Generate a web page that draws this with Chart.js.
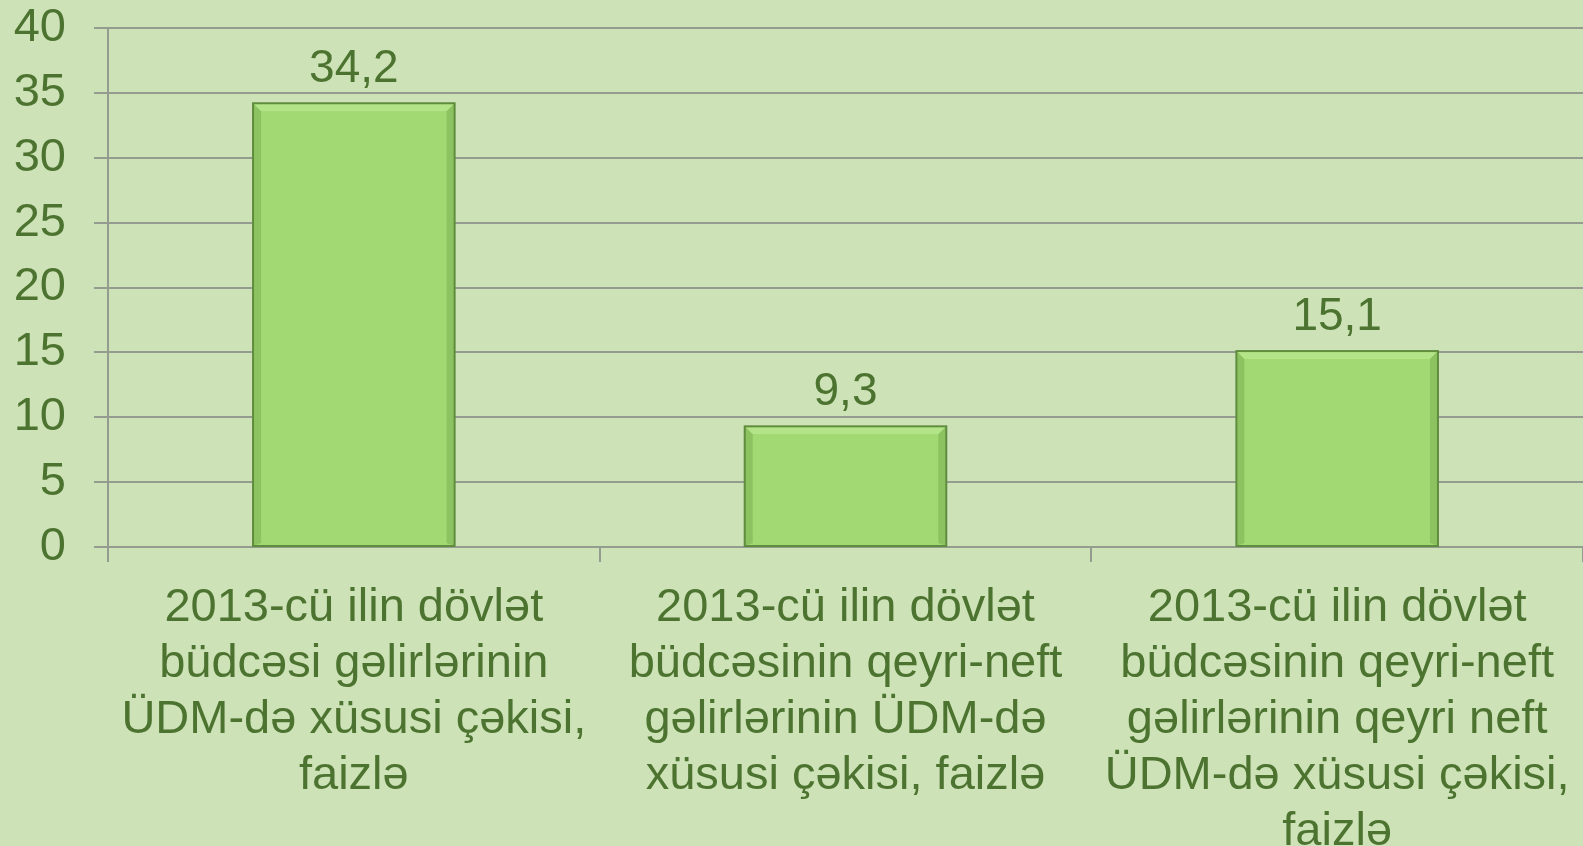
<!DOCTYPE html>
<html>
<head>
<meta charset="utf-8">
<script src="https://cdn.jsdelivr.net/npm/chart.js@4.4.1/dist/chart.umd.min.js"></script>
<style>
    html, body { margin: 0; padding: 0; background: #cde3b7; }
    #wrap { width: 1583px; height: 846px; }
</style>
</head>
<body>
<div id="wrap"><canvas id="grafica"></canvas></div>
<script>
// Datos de la grafica
var categorias = [
    ['2013-cü ilin dövlət', 'büdcəsi gəlirlərinin', 'ÜDM-də xüsusi çəkisi,', 'faizlə'],
    ['2013-cü ilin dövlət', 'büdcəsinin qeyri-neft', 'gəlirlərinin ÜDM-də', 'xüsusi çəkisi, faizlə'],
    ['2013-cü ilin dövlət', 'büdcəsinin qeyri-neft', 'gəlirlərinin qeyri neft', 'ÜDM-də xüsusi çəkisi,', 'faizlə']
];
var valores = [34.2, 9.3, 15.1];
var ticksY = [0, 5, 10, 15, 20, 25, 30, 35, 40];

var verdeTexto = '#4d7330';
var gris = '#949c8f';
var fuente = "'Liberation Sans', Arial, sans-serif";

// Etiquetas de valor sobre cada barra
var etiquetasPlugin = {
    id: 'etiquetas',
    afterDatasetsDraw: function (chart) {
        var ctx = chart.ctx;
        var meta = chart.getDatasetMeta(0);
        ctx.save();
        ctx.fillStyle = verdeTexto;
        ctx.font = '46px ' + fuente;
        ctx.textAlign = 'center';
        ctx.textBaseline = 'alphabetic';
        meta.data.forEach(function (bar, i) {
            var texto = String(valores[i]).replace('.', ',');
            ctx.fillText(texto, bar.x, bar.y - 21);
        });
        ctx.restore();
    }
};

// Efecto de bisel en las barras
var biselPlugin = {
    id: 'bisel',
    afterDatasetsDraw: function (chart) {
        var ctx = chart.ctx;
        var meta = chart.getDatasetMeta(0);
        ctx.save();
        meta.data.forEach(function (bar) {
            var l = bar.x - bar.width / 2;
            var r = bar.x + bar.width / 2;
            var t = bar.y;
            var b = bar.base;
            var s = 8;
            // arriba claro
            ctx.fillStyle = 'rgba(190, 235, 150, 0.6)';
            ctx.beginPath();
            ctx.moveTo(l, t); ctx.lineTo(r, t); ctx.lineTo(r - s, t + s); ctx.lineTo(l + s, t + s);
            ctx.closePath(); ctx.fill();
            // lados oscuros
            ctx.fillStyle = 'rgba(110, 160, 70, 0.4)';
            ctx.beginPath();
            ctx.moveTo(l, t); ctx.lineTo(l + s, t + s); ctx.lineTo(l + s, b - 3); ctx.lineTo(l, b);
            ctx.closePath(); ctx.fill();
            ctx.beginPath();
            ctx.moveTo(r, t); ctx.lineTo(r - s, t + s); ctx.lineTo(r - s, b - 3); ctx.lineTo(r, b);
            ctx.closePath(); ctx.fill();
            ctx.strokeStyle = '#5f8c3d';
            ctx.lineWidth = 2;
            ctx.strokeRect(l, t, r - l, b - t);
        });
        ctx.restore();
    }
};

var chart = new Chart(document.getElementById('grafica').getContext('2d'), {
    type: 'bar',
    data: {
        labels: categorias,
        datasets: [{
            data: valores,
            backgroundColor: '#a2d972',
            borderWidth: 0,
            categoryPercentage: 1,
            barPercentage: 0.41
        }]
    },
    options: {
        responsive: true,
        maintainAspectRatio: false,
        animation: false,
        layout: { padding: { top: 28, right: 0, left: 0, bottom: 0 } },
        plugins: {
            legend: { display: false },
            tooltip: { enabled: false }
        },
        scales: {
            x: {
                grid: { display: true, drawOnChartArea: false, color: gris, lineWidth: 2, tickLength: 15, offset: true },
                border: { display: true, color: gris, width: 2 },
                ticks: {
                    color: verdeTexto,
                    font: { family: fuente, size: 47, lineHeight: 1.19 },
                    autoSkip: false,
                    maxRotation: 0,
                    padding: 18
                },
                afterFit: function (scale) {
                    scale.height = 299;
                    scale.paddingLeft = 0;
                    scale.paddingRight = 0;
                }
            },
            y: {
                min: 0,
                max: 40,
                grid: { color: gris, lineWidth: 2, tickLength: 14 },
                border: { display: true, color: gris, width: 2 },
                ticks: {
                    color: verdeTexto,
                    font: { family: fuente, size: 47 },
                    padding: 28,
                    stepSize: 5,
                    callback: function (v) { return ticksY.indexOf(v) >= 0 ? String(v) : ''; }
                },
                afterFit: function (scale) {
                    scale.width = 108;
                    scale.paddingTop = 0;
                    scale.paddingBottom = 0;
                }
            }
        }
    },
    plugins: [biselPlugin, etiquetasPlugin]
});
</script>
</body>
</html>
